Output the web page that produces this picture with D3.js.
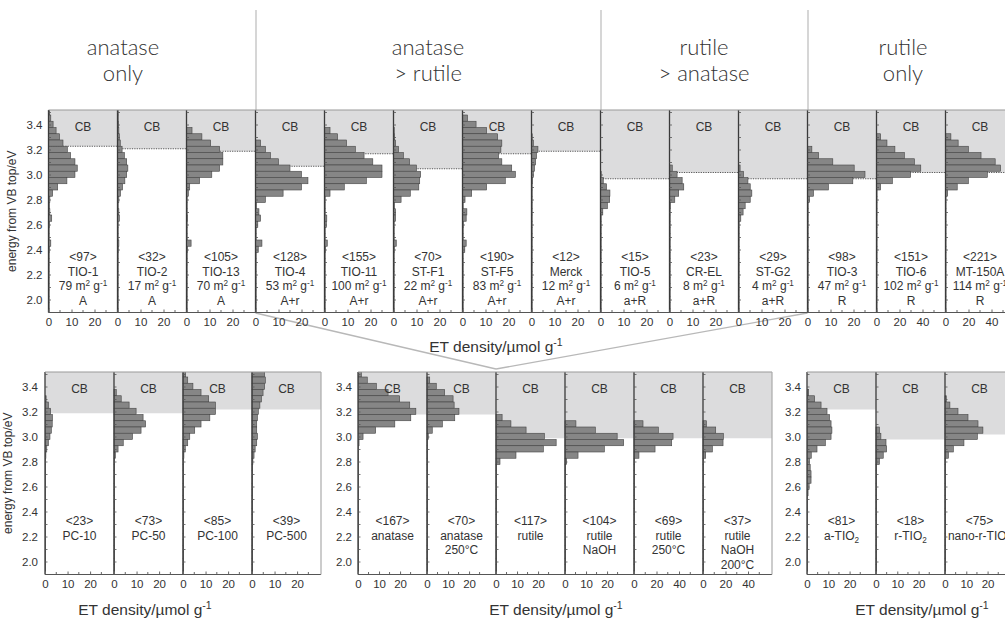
<!DOCTYPE html>
<html>
<head>
<meta charset="utf-8">
<script src="https://cdn.jsdelivr.net/npm/d3@7"></script>
<style>
	body { margin: 0; background: #fff; }
	svg { display: block; font-family: "Liberation Sans", Arial, sans-serif; }
</style>
</head>
<body>
<svg id="chart" width="1005" height="619"></svg>
<script>
"use strict";

//
// Data: ET density per 0.05 eV bin, first bin 3.48-3.53 eV, going down
//
var binTop = 3.53;
var binWidth = 0.05;

var headers = [["anatase", "only"], ["anatase", "> rutile"], ["rutile", "> anatase"], ["rutile", "only"]];

var topNames = ["TIO-1", "TIO-2", "TIO-13", "TIO-4", "TIO-11", "ST-F1", "ST-F5", "Merck", "TIO-5", "CR-EL", "ST-G2", "TIO-3", "TIO-6", "MT-150A"];
var topTotals = [97, 32, 105, 128, 155, 70, 190, 12, 15, 23, 29, 98, 151, 221];
var topAreas = [79, 17, 70, 53, 100, 22, 83, 12, 6, 8, 4, 47, 102, 114];
var topPhases = ["A", "A", "A", "A+r", "A+r", "A+r", "A+r", "A+r", "a+R", "a+R", "a+R", "R", "R", "R"];
var topCB = [3.23, 3.21, 3.19, 3.07, 3.17, 3.05, 3.17, 3.19, 2.97, 3.02, 2.97, 2.97, 3.02, 3.02];
var topXMax = [30, 30, 30, 30, 30, 30, 30, 30, 30, 30, 30, 30, 60, 60];
var topValues = [
	[0.5, 1, 2, 3.3, 4.8, 6.3, 8.2, 9.6, 11.5, 12.5, 11.5, 8, 4, 1.8, 0.6, 0.4, 0.6, 1.4, 0.5, 0.3, 0.3, 1, 0.4, 0.3, 0.3, 0.3, 0.3, 0.3, 0.3, 0.3, 0.3, 0.3, 0.3],
	[0.3, 0.3, 0.5, 0.6, 0.8, 1.2, 2, 3, 4, 4.5, 4, 3.2, 2.2, 1.3, 0.6, 0.3, 0.6, 0.8, 0.3, 0.3, 0.3, 0.6, 0.4, 0.3, 0.3, 0.3, 0.3, 0.3, 0.3, 0.3, 0.3, 0.3, 0.3],
	[0, 0, 0, 2.4, 6.7, 10.5, 14.4, 15.8, 15.8, 14.4, 11, 5.7, 1.4, 0.8, 0.3, 0.3, 0.3, 0.5, 0.3, 0.3, 0.3, 2, 0.5, 0.3, 0.3, 0.3, 0.3, 0.3, 0.3, 0.3, 0.3, 0.3, 0.3],
	[0, 0, 0, 0, 0, 2.2, 4.3, 6.5, 10, 15, 20, 22.8, 20, 12, 4.3, 0.4, 1.5, 2.2, 1, 0.3, 0.3, 2.8, 1.2, 0.3, 0.3, 0.3, 0.3, 0.3, 0.3, 0.3, 0.3, 0.3, 0.3],
	[0, 0, 0, 2.4, 5.7, 9.6, 13.4, 17.2, 21, 25, 25, 18.2, 8.6, 2.4, 0.3, 0.3, 0.3, 1, 0.8, 0.3, 0.3, 1.2, 0.5, 0.3, 0.3, 0.3, 0.3, 0.3, 0.3, 0.3, 0.3, 0.3, 0.3],
	[0, 0, 0, 0.3, 0.5, 0.9, 2.2, 4.3, 7, 10, 11.8, 11.4, 11, 7.3, 3.3, 0.4, 0.9, 0.9, 0.3, 0.3, 0.3, 1.2, 0.4, 0.3, 0.3, 0.3, 0.3, 0.3, 0.3, 0.3, 0.3, 0.3, 0.3],
	[0, 2.2, 5.9, 10.5, 15.3, 17.1, 16.7, 15.7, 17.1, 21.4, 23, 18.6, 10.5, 4, 1.1, 0.3, 1.9, 1.6, 0.4, 0.3, 0.3, 1.6, 1, 0.3, 0.3, 0.3, 0.3, 0.3, 0.3, 0.3, 0.3, 0.3, 0.3],
	[0, 0, 0, 0, 0.3, 0.8, 2.8, 2.2, 1.8, 1.3, 0.8, 0.5, 0.3, 0.3, 0.3, 0.3, 0.3, 0.3, 0.3, 0.3, 0.3, 0.3, 0.3, 0.3, 0.3, 0.3, 0.3, 0.3, 0.3, 0.3, 0.3, 0.3, 0.3],
	[0, 0, 0, 0, 0, 0, 0, 0, 0, 0, 0.3, 1.2, 2.6, 4.1, 4, 3, 1, 0.3, 0.3, 0.3, 0.3, 0.3, 0.3, 0.3, 0.3, 0.3, 0.3, 0.3, 0.3, 0.3, 0.3, 0.3, 0.3],
	[0, 0, 0, 0, 0, 0, 0, 0, 0, 1.2, 3.3, 5.5, 6.2, 4, 2.3, 0.4, 0.3, 0.3, 0.3, 0.3, 0.3, 0.3, 0.3, 0.3, 0.3, 0.3, 0.3, 0.3, 0.3, 0.3, 0.3, 0.3, 0.3],
	[0, 0, 0, 0, 0, 0, 0, 0, 0, 0.7, 2.2, 4.1, 5.1, 5.8, 5.1, 2.9, 2, 1, 0.3, 0.3, 0.3, 0.3, 0.3, 0.3, 0.3, 0.3, 0.3, 0.3, 0.3, 0.3, 0.3, 0.3, 0.3],
	[0, 0, 0, 0, 0, 0, 1.9, 4.8, 11, 20.3, 25, 19.7, 9.1, 2.6, 0.9, 0.3, 0.3, 0.3, 0.3, 0.3, 0.3, 0.3, 0.3, 0.3, 0.3, 0.3, 0.3, 0.3, 0.3, 0.3, 0.3, 0.3, 0.3],
	[0, 0, 0, 0, 3.6, 9.1, 16, 24.2, 33, 38.5, 29.7, 13.8, 3.6, 0.5, 0.5, 0.5, 0.5, 0.5, 0.5, 0.5, 0.5, 0.5, 0.5, 0.5, 0.5, 0.5, 0.5, 0.5, 0.5, 0.5, 0.5, 0.5, 0.5],
	[0, 0, 0, 0, 4.7, 11, 19.9, 30.9, 43.2, 47.9, 36.4, 19.9, 10.2, 1.9, 0.5, 0.5, 0.5, 0.5, 0.5, 0.5, 0.5, 0.5, 0.5, 0.5, 0.5, 0.5, 0.5, 0.5, 0.5, 0.5, 0.5, 0.5, 0.5]
];

var pcNames = [["PC-10"], ["PC-50"], ["PC-100"], ["PC-500"]];
var pcTotals = [23, 73, 85, 39];
var pcCB = [3.19, 3.19, 3.22, 3.22];
var pcXMax = [30.6, 30.6, 30.6, 30.6];
var pcValues = [
	[0, 0, 0, 0, 0.5, 1.5, 2.5, 3.3, 3.2, 2.8, 2.2, 1.5, 0.8, 0.4, 0.3, 0.3, 0.3, 0.3, 0.3, 0.3, 0.3, 0.3, 0.3, 0.3, 0.3, 0.3, 0.3, 0.3, 0.3, 0.3, 0.3, 0.3, 0.3],
	[0, 0, 0, 1, 3.2, 6.7, 9.8, 12.9, 14, 12, 8.2, 4.1, 1.8, 0.6, 0.3, 0.3, 0.3, 0.3, 0.3, 0.3, 0.3, 0.3, 0.3, 0.3, 0.3, 0.3, 0.3, 0.3, 0.3, 0.3, 0.3, 0.3, 0.3],
	[1.2, 2.1, 4.4, 8, 11.4, 14.4, 14.4, 11.9, 8, 5.2, 3, 2.1, 1, 0.4, 0.3, 0.3, 0.3, 0.3, 0.3, 0.3, 0.3, 0.3, 0.3, 0.3, 0.3, 0.3, 0.3, 0.3, 0.3, 0.3, 0.3, 0.3, 0.3],
	[5.6, 5.9, 5.6, 4.9, 4.2, 3.5, 2.8, 2.4, 2.1, 2.1, 2.4, 2.1, 1.4, 0.9, 0.4, 0.3, 0.3, 0.3, 0.3, 0.3, 0.3, 0.3, 0.3, 0.3, 0.3, 0.3, 0.3, 0.3, 0.3, 0.3, 0.3, 0.3, 0.3]
];

var refNames = [["anatase"], ["anatase", "250°C"], ["rutile"], ["rutile", "NaOH"], ["rutile", "250°C"], ["rutile", "NaOH", "200°C"]];
var refTotals = [167, 70, 117, 104, 69, 37];
var refCB = [3.18, 3.18, 2.99, 2.99, 2.99, 2.99];
var refXMax = [32.8, 32.8, 32.8, 32.8, 61.3, 61.3];
var refValues = [
	[1.6, 4.4, 8.7, 14.3, 19.8, 24.6, 27.5, 25.1, 17.5, 8.4, 2.4, 0.5, 0.3, 0.3, 0.3, 0.3, 0.3, 0.3, 0.3, 0.3, 0.3, 0.3, 0.3, 0.3, 0.3, 0.3, 0.3, 0.3, 0.3, 0.3, 0.3, 0.3, 0.3],
	[0, 1.3, 4.4, 8.4, 12.4, 12.9, 15.2, 13.2, 7.3, 2.5, 0.6, 0.3, 0.3, 0.3, 0.3, 0.3, 0.3, 0.3, 0.3, 0.3, 0.3, 0.3, 0.3, 0.3, 0.3, 0.3, 0.3, 0.3, 0.3, 0.3, 0.3, 0.3, 0.3],
	[0, 0, 0, 0, 0, 0, 0, 2.9, 7.1, 14.3, 23, 28.6, 22.5, 9.5, 1.9, 0.3, 0.3, 0.3, 0.3, 0.3, 0.3, 0.3, 0.3, 0.3, 0.3, 0.3, 0.3, 0.3, 0.3, 0.3, 0.3, 0.3, 0.3],
	[0, 0, 0, 0, 0, 0, 0, 0, 5.2, 14.4, 24.8, 27.9, 18.7, 6.2, 0.8, 0.3, 0.3, 0.3, 0.3, 0.3, 0.3, 0.3, 0.3, 0.3, 0.3, 0.3, 0.3, 0.3, 0.3, 0.3, 0.3, 0.3, 0.3],
	[0, 0, 0, 0, 0, 0, 0, 0, 8, 21.6, 34.7, 33.5, 18.7, 4.4, 0.5, 0.5, 0.5, 0.5, 0.5, 0.5, 0.5, 0.5, 0.5, 0.5, 0.5, 0.5, 0.5, 0.5, 0.5, 0.5, 0.5, 0.5, 0.5],
	[0, 0, 0, 0, 0, 0, 0, 0, 3, 11.3, 18.1, 17.8, 8.3, 2.4, 0.5, 0.5, 0.5, 0.5, 0.5, 0.5, 0.5, 0.5, 0.5, 0.5, 0.5, 0.5, 0.5, 0.5, 0.5, 0.5, 0.5, 0.5, 0.5]
];

var tiNames = [["a-TIO_{2}"], ["r-TIO_{2}"], ["nano-r-TIO_{2}"]];
var tiTotals = [81, 18, 75];
var tiCB = [3.22, 2.98, 3.02];
var tiXMax = [32.4, 32.4, 32.4];
var tiValues = [
	[0, 0, 0, 0.8, 3.6, 6.6, 9.4, 10.6, 11.3, 11.7, 11.3, 8.6, 4.7, 2, 1.2, 1.5, 1.9, 1.9, 1, 0.5, 0.3, 0.3, 0.3, 0.3, 0.3, 0.3, 0.3, 0.3, 0.3, 0.3, 0.3, 0.3, 0.3],
	[0, 0, 0, 0, 0, 0, 0, 0, 0, 1.6, 2.3, 4.7, 5, 3.4, 1.6, 0.3, 0.3, 0.3, 0.3, 0.3, 0.3, 0.3, 0.3, 0.3, 0.3, 0.3, 0.3, 0.3, 0.3, 0.3, 0.3, 0.3, 0.3],
	[0, 0, 0, 0, 0.6, 2.3, 6.1, 10.8, 15.5, 17.8, 15.2, 8.9, 3.9, 1.6, 0.3, 0.3, 0.3, 0.3, 0.3, 0.3, 0.3, 0.3, 0.3, 0.3, 0.3, 0.3, 0.3, 0.3, 0.3, 0.3, 0.3, 0.3, 0.3]
];

var energyTicks = [2.0, 2.2, 2.4, 2.6, 2.8, 3.0, 3.2, 3.4];
var energyMinor = d3.range(20, 36).map(function(d) { return d / 10; });

//
// Setup
//
var svg = d3.select("#chart");
var panelWidth = 69;
var textColor = "#333";
var clipCount = 0;

// text with ^{..} superscripts and _{..} subscripts
function richText(sel, str, size) {
	var parts = str.split(/([\^_]\{[^}]*\})/).filter(function(s) { return s.length; });
	var shift = 0;
	parts.forEach(function(p) {
		var t = sel.append("tspan");
		if (p[0] === "^" || p[0] === "_") {
			var off = p[0] === "^" ? -0.38 * size : 0.25 * size;
			t.text(p.slice(2, -1)).attr("font-size", size * 0.68).attr("dy", off - shift);
			shift = off;
		} else {
			t.text(p).attr("dy", -shift);
			shift = 0;
		}
	});
}

function drawGroup(opt) {
	var n = opt.values.length;
	var right = opt.left + n * panelWidth;
	var y = d3.scaleLinear().domain([1.9, 3.52]).range([opt.bottom, opt.top]);
	var id = "clip" + (clipCount++);

	svg.append("clipPath").attr("id", id)
		.append("rect")
		.attr("x", opt.left).attr("y", opt.top)
		.attr("width", n * panelWidth).attr("height", opt.bottom - opt.top);

	var g = svg.append("g");

	opt.values.forEach(function(vals, i) {
		var x0 = opt.left + i * panelWidth;
		var x = d3.scaleLinear().domain([0, opt.xMax[i]]).range([x0, x0 + panelWidth]);
		var p = g.append("g").attr("clip-path", "url(#" + id + ")");

		//
		// CB shading
		//
		p.append("rect")
			.attr("x", x0).attr("y", y(3.52))
			.attr("width", panelWidth)
			.attr("height", y(opt.cb[i]) - y(3.52))
			.attr("fill", "#dcdcdd");

		if (opt.dotted)
			p.append("line")
				.attr("x1", x0).attr("x2", x0 + panelWidth)
				.attr("y1", y(opt.cb[i])).attr("y2", y(opt.cb[i]))
				.attr("stroke", "#555").attr("stroke-width", 1)
				.attr("stroke-dasharray", "1.2,1.2");

		//
		// Bars
		//
		var bins = vals.map(function(v, k) {
			return { v: v, hi: binTop - k * binWidth, lo: binTop - (k + 1) * binWidth };
		}).filter(function(d) { return d.v > 0; });

		p.selectAll(".bar")
			.data(bins)
			.enter()
			.append("rect")
			.attr("class", "bar")
			.attr("x", x(0))
			.attr("y", function(d) { return y(d.hi); })
			.attr("width", function(d) { return x(d.v) - x(0); })
			.attr("height", function(d) { return y(d.lo) - y(d.hi); })
			.attr("fill", "#868686")
			.attr("stroke", "#444")
			.attr("stroke-width", 0.6);

		//
		// CB label and sample text
		//
		g.append("text")
			.attr("x", x0 + panelWidth / 2).attr("y", opt.top + 21)
			.attr("text-anchor", "middle")
			.attr("font-size", 12).attr("fill", textColor)
			.text("CB");

		var lines = ["<" + opt.totals[i] + ">"].concat(opt.names[i]);
		lines.forEach(function(line, j) {
			var t = g.append("text")
				.attr("x", x0 + panelWidth / 2)
				.attr("y", opt.labelY + j * 14.6)
				.attr("text-anchor", "middle")
				.attr("font-size", 12).attr("fill", textColor);
			richText(t, line, 12);
		});

		//
		// Panel left border with inner ticks
		//
		g.append("line")
			.attr("x1", x0).attr("x2", x0)
			.attr("y1", opt.top).attr("y2", opt.bottom)
			.attr("stroke", "#3a3a3a").attr("stroke-width", 1.3);

		g.append("g").selectAll("line")
			.data(energyMinor)
			.enter()
			.append("line")
			.attr("x1", x0).attr("x2", x0 + 2.5)
			.attr("y1", function(d) { return y(d); })
			.attr("y2", function(d) { return y(d); })
			.attr("stroke", "#555").attr("stroke-width", 0.8);

		//
		// X axis of the panel
		//
		var step = opt.xMax[i] > 40 ? 20 : 10;
		var xAxis = d3.axisBottom(x)
			.tickValues([0, step, 2 * step])
			.tickFormat(d3.format("d"))
			.tickSize(-3)
			.tickPadding(5);

		var ax = g.append("g")
			.attr("transform", "translate(0," + opt.bottom + ")")
			.call(xAxis);
		ax.select(".domain").remove();
		ax.selectAll("line").attr("stroke", "#666");
		ax.selectAll("text")
			.attr("font-size", 11.5)
			.attr("fill", textColor)
			.style("font-family", "Liberation Sans, Arial, sans-serif");

		g.append("g").selectAll("line")
			.data([step / 2, step * 1.5, step * 2.5])
			.enter()
			.append("line")
			.attr("x1", function(d) { return x(d); })
			.attr("x2", function(d) { return x(d); })
			.attr("y1", opt.bottom).attr("y2", opt.bottom - 2.5)
			.attr("stroke", "#666");
	});

	//
	// Frame
	//
	g.append("line")
		.attr("x1", opt.left).attr("x2", right)
		.attr("y1", opt.top).attr("y2", opt.top)
		.attr("stroke", "#999").attr("stroke-width", 1.2);

	g.append("line")
		.attr("x1", opt.left).attr("x2", right)
		.attr("y1", opt.bottom).attr("y2", opt.bottom)
		.attr("stroke", "#555").attr("stroke-width", 1.2);

	if (opt.rightBorder)
		g.append("line")
			.attr("x1", right).attr("x2", right)
			.attr("y1", opt.top).attr("y2", opt.bottom)
			.attr("stroke", "#aaa").attr("stroke-width", 1.2);

	//
	// Y axis
	//
	var yAxis = d3.axisLeft(y)
		.tickValues(energyTicks)
		.tickFormat(d3.format(".1f"))
		.tickSize(0)
		.tickPadding(opt.yPad);

	var yg = g.append("g")
		.attr("transform", "translate(" + opt.left + ",0)")
		.call(yAxis);
	yg.select(".domain").remove();
	yg.selectAll("text")
		.attr("font-size", 11.5)
		.attr("fill", textColor)
		.style("font-family", "Liberation Sans, Arial, sans-serif");

	if (opt.yTitleX)
		g.append("text")
			.attr("transform", "translate(" + opt.yTitleX + "," + (opt.top + opt.bottom) / 2 + ") rotate(-90)")
			.attr("text-anchor", "middle")
			.attr("font-size", 12).attr("fill", textColor)
			.text("energy from VB top/eV");

	//
	// X axis title
	//
	var xt = g.append("text")
		.attr("x", opt.xTitleX).attr("y", opt.xTitleY)
		.attr("text-anchor", "middle")
		.attr("font-size", 15.5).attr("fill", textColor);
	richText(xt, "ET density/µmol g^{-1}", 15.5);

	return { y: y, left: opt.left, right: right };
}

//
// Headers and separators
//
var headerX = [123, 428, 704, 903];
headers.forEach(function(h, i) {
	h.forEach(function(line, j) {
		svg.append("text")
			.attr("x", headerX[i]).attr("y", 55 + j * 26)
			.attr("text-anchor", "middle")
			.attr("font-size", 22)
			.style("font-family", "Lato, 'Open Sans', sans-serif")
			.style("font-weight", 300)
			.attr("fill", textColor)
			.text(line);
	});
});

[256, 601, 808].forEach(function(sx) {
	svg.append("line")
		.attr("x1", sx).attr("x2", sx)
		.attr("y1", 10).attr("y2", 110)
		.attr("stroke", "#bbb").attr("stroke-width", 1.2);
});

//
// Connector lines from the top row to the reference group
//
var connector = svg.append("g");

//
// Groups
//
var topRow = drawGroup({
	left: 48.5, top: 110, bottom: 312.5,
	values: topValues, totals: topTotals, cb: topCB, xMax: topXMax,
	names: topNames.map(function(nm, i) { return [nm, topAreas[i] + " m^{2} g^{-1}", topPhases[i]]; }),
	labelY: 261, dotted: true, yPad: 6,
	yTitleX: 16, xTitleX: 496, xTitleY: 352
});

drawGroup({
	left: 45, top: 372, bottom: 574.5,
	values: pcValues, totals: pcTotals, cb: pcCB, xMax: pcXMax, names: pcNames,
	labelY: 525, rightBorder: true, yPad: 7,
	yTitleX: 12, xTitleX: 145, xTitleY: 615
});

var refGroup = drawGroup({
	left: 358, top: 372, bottom: 574.5,
	values: refValues, totals: refTotals, cb: refCB, xMax: refXMax, names: refNames,
	labelY: 525, rightBorder: true, yPad: 6,
	xTitleX: 556, xTitleY: 615
});

drawGroup({
	left: 807, top: 372, bottom: 574.5,
	values: tiValues, totals: tiTotals, cb: tiCB, xMax: tiXMax, names: tiNames,
	labelY: 525, yPad: 6,
	xTitleX: 922, xTitleY: 615
});

var apex = [refGroup.left + 2 * panelWidth, 369];
[topRow.left + 3 * panelWidth, topRow.left + 11 * panelWidth].forEach(function(sx) {
	connector.append("line")
		.attr("x1", sx).attr("y1", 313)
		.attr("x2", apex[0]).attr("y2", apex[1])
		.attr("stroke", "#b8b8b8").attr("stroke-width", 1.3);
});
</script>
</body>
</html>
